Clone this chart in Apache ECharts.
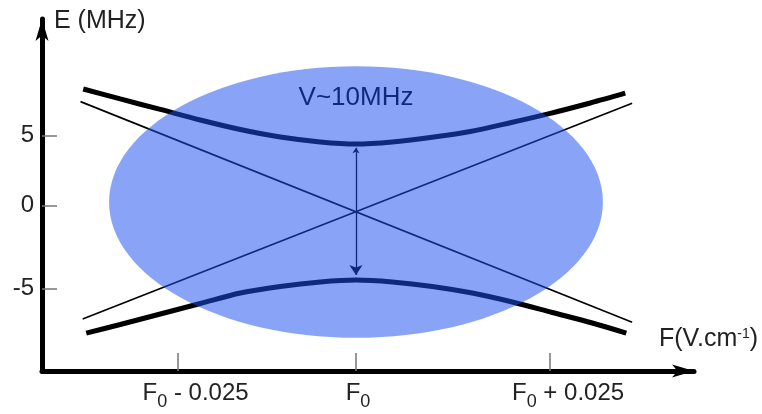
<!DOCTYPE html>
<html><head><meta charset="utf-8">
<script src="https://cdn.jsdelivr.net/npm/echarts@6/dist/echarts.min.js"></script>
<style>html,body{margin:0;padding:0;background:#fff}#c{width:762px;height:414px}</style>
</head><body><div id="c"></div>
<script>
// x: (F - F0) in units of 0.001 V/cm (schematic); y: E in MHz (schematic)
const xTickValues = [-25, 0, 27.2];
const xTickLabels = ['F0 - 0.025', 'F0', 'F0 + 0.025'];
const yTickValues = [-5.9, 0, 5];
const yTickLabels = ['-5', '0', '5'];

const upperX = [-38.22, -33.03, -27.42, -21.82, -16.21, -10.60, -5.00, 0, 5.09, 10.41, 16.02, 21.62, 27.23, 32.83, 37.73];
const upperE = [8.34, 7.63, 6.88, 6.13, 5.45, 4.91, 4.56, 4.41, 4.56, 4.88, 5.31, 5.93, 6.60, 7.34, 8.04];
const lowerX = [-37.80, -33.03, -27.42, -21.82, -16.21, -10.60, -5.00, 0, 5.09, 10.69, 16.30, 21.90, 27.51, 33.12, 37.88];
const lowerE = [-9.09, -8.48, -7.73, -6.98, -6.23, -5.76, -5.44, -5.30, -5.44, -5.76, -6.23, -6.87, -7.62, -8.37, -9.09];
const diagDownX = [-38.6, 38.7];
const diagDownE = [7.44, -8.32];
const diagUpX = [-38.3, 38.7];
const diagUpE = [-8.09, 7.32];
const gapArrowX = [0, 0];
const gapArrowE = [4.15, -4.95];
const regionCenter = [0, 0.27];
const regionRadii = [34.6, 9.7];
const couplingText = 'V~10MHz';
const yName = 'E (MHz)';

const zip = (xs, ys) => xs.map((x, i) => [x, ys[i]]);
const findIdx = (arr, v) => arr.findIndex(t => Math.abs(t - v) < 1e-6);

const chart = echarts.init(document.getElementById('c'), null, {renderer: 'canvas'});
const FONT = '"Liberation Sans", Arial, sans-serif';

function xLabelRich(label) {
  const pad = label === 'F0' ? '{pm| }' : '{p| }';
  const rest = label.slice(2);
  return pad + '{m|F}{s|0}' + (rest ? '{m|' + rest + '}' : '');
}

const option = {
  animation: false,
  backgroundColor: '#fff',
  grid: {left: 42, right: 68, top: 19, bottom: 43, containLabel: false, outerBoundsMode: 'none'},
  xAxis: {
    type: 'value', min: -44, max: 47.37,
    name: '{a|F(V.cm}{sup|-1}{a|)}',
    nameLocation: 'end', nameGap: 64, nameMoveOverlap: false,
    nameTextStyle: {
      align: 'right', verticalAlign: 'bottom', padding: [0, 0, 14, 0],
      rich: {
        a: {fontFamily: FONT, fontSize: 25, color: '#222', lineHeight: 30, verticalAlign: 'top'},
        sup: {fontFamily: FONT, fontSize: 14, color: '#222', lineHeight: 24, verticalAlign: 'top'}
      }
    },
    axisLine: {show: true, onZero: false, symbol: ['none', 'arrow'], symbolSize: [9.75, 22],
      lineStyle: {color: '#000', width: 5}},
    axisTick: {show: true, inside: true, length: 18, customValues: xTickValues,
      lineStyle: {color: '#777', width: 1.5}},
    axisLabel: {
      show: true, margin: 10, customValues: xTickValues,
      formatter: v => { const i = findIdx(xTickValues, v); return i < 0 ? '' : xLabelRich(xTickLabels[i]); },
      rich: {
        p: {width: 36, fontSize: 24, lineHeight: 28, verticalAlign: 'top'},
        pm: {width: 4, fontSize: 24, lineHeight: 28, verticalAlign: 'top'},
        m: {fontFamily: FONT, fontSize: 24, color: '#222', lineHeight: 28, verticalAlign: 'top'},
        s: {fontFamily: FONT, fontSize: 18, color: '#222', lineHeight: 28, verticalAlign: 'top', padding: [12, 0, 0, 0]}
      }
    },
    splitLine: {show: false}
  },
  yAxis: {
    type: 'value', min: -11.8, max: 13.34,
    name: yName, nameLocation: 'end', nameGap: 10, nameMoveOverlap: false,
    nameTextStyle: {fontFamily: FONT, fontSize: 25, color: '#222', align: 'left', verticalAlign: 'top', padding: [0, 0, 0, 12]},
    axisLine: {show: true, onZero: false, symbol: ['none', 'arrow'], symbolSize: [9.75, 22],
      lineStyle: {color: '#000', width: 5}},
    axisTick: {show: true, inside: true, length: 15, customValues: yTickValues,
      lineStyle: {color: '#777', width: 1.5}},
    axisLabel: {
      show: true, margin: 8, customValues: yTickValues,
      fontFamily: FONT, fontSize: 24, color: '#222',
      formatter: v => { const i = findIdx(yTickValues, v); return i < 0 ? '' : yTickLabels[i]; }
    },
    splitLine: {show: false}
  },
  graphic: [{
    type: 'text', z: 1, x: 356, y: 98,
    style: {text: couplingText, font: '26px ' + FONT, fill: '#000',
      align: 'center', verticalAlign: 'middle', textAlign: 'center', textVerticalAlign: 'middle'}
  }],
  series: [
    {type: 'line', name: 'upper', data: zip(upperX, upperE), smooth: 0.3, symbol: 'none', silent: true, z: 2,
      lineStyle: {color: '#000', width: 5}},
    {type: 'line', name: 'lower', data: zip(lowerX, lowerE), smooth: 0.3, symbol: 'none', silent: true, z: 2,
      lineStyle: {color: '#000', width: 5}},
    {type: 'line', name: 'diag1', data: zip(diagDownX, diagDownE), symbol: 'none', silent: true, z: 2,
      lineStyle: {color: '#000', width: 1.7}},
    {type: 'line', name: 'diag2', data: zip(diagUpX, diagUpE), symbol: 'none', silent: true, z: 2,
      lineStyle: {color: '#000', width: 1.7}},
    {type: 'lines', coordinateSystem: 'cartesian2d', z: 3, silent: true,
      symbol: ['arrow', 'arrow'], symbolSize: [5.5, 10],
      data: [{coords: zip(gapArrowX, gapArrowE)}],
      lineStyle: {color: '#000', width: 1.3, opacity: 1}},
    {type: 'custom', z: 10, silent: true, clip: false,
      data: [[regionCenter[0], regionCenter[1], regionRadii[0], regionRadii[1]]],
      renderItem: (params, api) => {
        const c = api.coord([api.value(0), api.value(1)]);
        const s = api.size([api.value(2), api.value(3)]);
        return {type: 'ellipse', shape: {cx: c[0], cy: c[1], rx: s[0], ry: s[1]},
          style: {fill: 'rgba(28,78,240,0.52)'}};
      }}
  ]
};
chart.setOption(option);
</script>
</body></html>
